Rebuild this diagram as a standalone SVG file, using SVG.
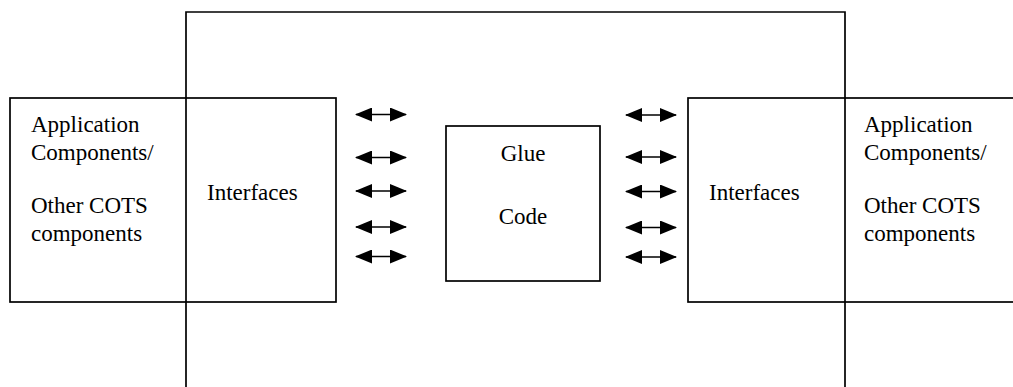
<svg xmlns="http://www.w3.org/2000/svg" width="1013" height="387" viewBox="0 0 1013 387">
  <style>
    .box { fill: none; stroke: #000; stroke-width: 1.7; }
    .link { stroke: #000; stroke-width: 1.7; fill: none; marker-start: url(#head); marker-end: url(#head); }
  </style>
  <defs>
    <marker id="head" viewBox="0 0 17 14" refX="16" refY="7" markerWidth="17" markerHeight="14" markerUnits="userSpaceOnUse" orient="auto-start-reverse">
      <path d="M0,0 L17,7 L0,14 Z" fill="#000"/>
    </marker>
  </defs>

  <rect x="0" y="0" width="1013" height="387" fill="#fff"/>

  <!-- outer container, open at the bottom edge -->
  <g id="container">
    <path class="box" d="M186,400 V12 H845 V400"/>
  </g>

  <g font-family="Liberation Serif, Times New Roman, Times, serif" font-size="23" fill="#000">
    <g id="left-components">
      <rect class="box" x="10" y="98" width="326" height="204"/>
      <text x="31" y="132">Application</text>
      <text x="31" y="160">Components/</text>
      <text x="31" y="213">Other COTS</text>
      <text x="31" y="241">components</text>
    </g>

    <g id="left-interfaces">
      <text x="207" y="200">Interfaces</text>
    </g>

    <g id="glue-code">
      <rect class="box" x="446" y="126" width="154" height="155"/>
      <text x="523" y="161" text-anchor="middle">Glue</text>
      <text x="523" y="224" text-anchor="middle">Code</text>
    </g>

    <g id="right-components">
      <rect class="box" x="688" y="98" width="340" height="204"/>
      <text x="864" y="132">Application</text>
      <text x="864" y="160">Components/</text>
      <text x="864" y="213">Other COTS</text>
      <text x="864" y="241">components</text>
    </g>

    <g id="right-interfaces">
      <text x="709" y="200">Interfaces</text>
    </g>
  </g>

  <g id="connectors">
    <line class="link" x1="356" y1="114.5" x2="406" y2="114.5"/>
    <line class="link" x1="356" y1="157.5" x2="406" y2="157.5"/>
    <line class="link" x1="356" y1="191" x2="406" y2="191"/>
    <line class="link" x1="356" y1="227" x2="406" y2="227"/>
    <line class="link" x1="356" y1="256.5" x2="406" y2="256.5"/>
    <line class="link" x1="626" y1="115" x2="676" y2="115"/>
    <line class="link" x1="626" y1="157" x2="676" y2="157"/>
    <line class="link" x1="626" y1="191.5" x2="676" y2="191.5"/>
    <line class="link" x1="626" y1="227.5" x2="676" y2="227.5"/>
    <line class="link" x1="626" y1="257" x2="676" y2="257"/>
  </g>
</svg>
